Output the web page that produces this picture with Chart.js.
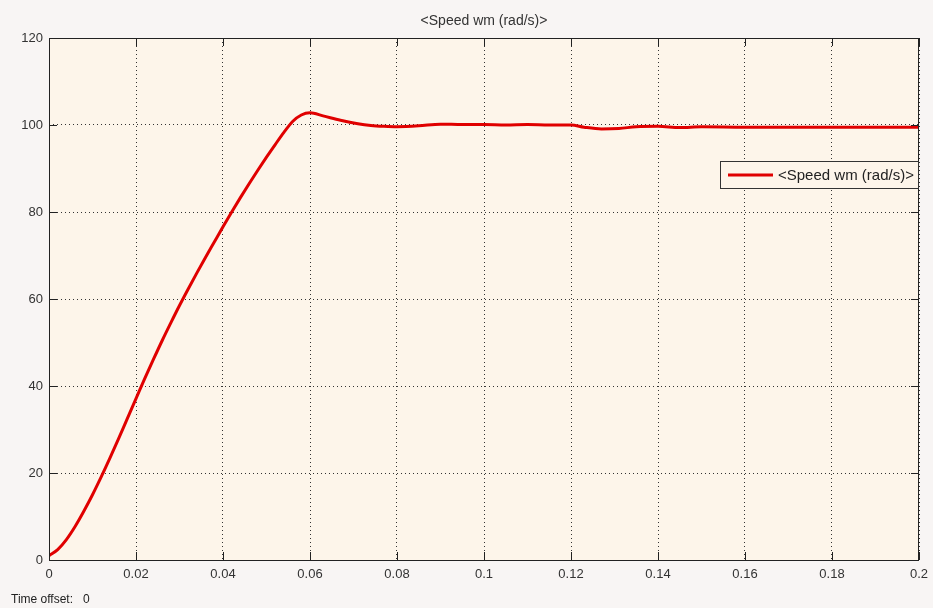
<!DOCTYPE html>
<html>
<head>
<meta charset="utf-8">
<script src="https://cdn.jsdelivr.net/npm/chart.js@4"></script>
<style>
  body { margin: 0; background: #f8f5f4; }
  #wrap { width: 933px; height: 608px; position: relative; }
</style>
</head>
<body>
<div id="wrap"><canvas id="speed"></canvas></div>
<script>
// simulated speed response
const seriesName = '<Speed wm (rad/s)>';
const timeS = [0, 0.002, 0.004, 0.006, 0.008, 0.010, 0.012, 0.014, 0.016, 0.018,
  0.020, 0.022, 0.024, 0.026, 0.028, 0.030, 0.032, 0.034, 0.036, 0.038,
  0.040, 0.042, 0.044, 0.046, 0.048, 0.050, 0.052, 0.054, 0.056, 0.058,
  0.060, 0.063, 0.067, 0.071, 0.074, 0.077, 0.080, 0.085, 0.090,
  0.095, 0.100, 0.105, 0.110, 0.115, 0.120, 0.123, 0.127, 0.131, 0.135,
  0.140, 0.145, 0.150, 0.160, 0.170, 0.180, 0.190, 0.200];
const speedWm = [1, 2.4, 4.7, 7.7, 11.2, 15.0, 19.1, 23.4, 27.9, 32.5,
  37.1, 41.7, 46.1, 50.4, 54.5, 58.5, 62.3, 66.0, 69.6, 73.1,
  76.6, 80.0, 83.3, 86.5, 89.6, 92.6, 95.5, 98.3, 100.8, 102.3,
  102.8, 102.1, 101.1, 100.3, 99.9, 99.7, 99.6, 99.8, 100.2,
  100.1, 100.1, 100, 100.1, 100, 100, 99.5, 99.1, 99.2, 99.6,
  99.7, 99.4, 99.6, 99.5, 99.5, 99.5, 99.5, 99.5];
const xTicks = [0, 0.02, 0.04, 0.06, 0.08, 0.1, 0.12, 0.14, 0.16, 0.18, 0.2];
const yTicks = [0, 20, 40, 60, 80, 100, 120];
const timeOffset = 0;

const points = timeS.map((t, i) => ({ x: t, y: speedWm[i] }));

const scopeDecor = {
  id: 'scopeDecor',
  beforeDraw(chart) {
    const { ctx, chartArea: a } = chart;
    ctx.save();
    ctx.fillStyle = '#fdf5ea';
    ctx.fillRect(a.left, a.top, a.right - a.left, a.bottom - a.top);
    ctx.restore();
  },
  afterDraw(chart) {
    const { ctx, chartArea: a } = chart;
    ctx.save();
    // frame
    ctx.strokeStyle = '#222';
    ctx.lineWidth = 1;
    ctx.strokeRect(a.left + 0.5, a.top + 0.5, a.right - a.left - 1, a.bottom - a.top);
    // inward tick marks
    const xs = chart.scales.x, ys = chart.scales.y;
    ctx.beginPath();
    xTicks.forEach(v => {
      const px = Math.round(xs.getPixelForValue(v)) + 0.5;
      ctx.moveTo(px, a.bottom); ctx.lineTo(px, a.bottom - 8);
      ctx.moveTo(px, a.top); ctx.lineTo(px, a.top + 8);
    });
    yTicks.forEach(v => {
      const py = Math.round(ys.getPixelForValue(v)) + 0.5;
      ctx.moveTo(a.left, py); ctx.lineTo(a.left + 8, py);
      ctx.moveTo(a.right, py); ctx.lineTo(a.right - 8, py);
    });
    ctx.stroke();
    // title
    ctx.fillStyle = '#333';
    ctx.font = '14px "Liberation Sans", Arial, sans-serif';
    ctx.textAlign = 'center';
    ctx.textBaseline = 'middle';
    ctx.fillText(chart.data.datasets[0].label, (a.left + a.right) / 2, 21);
    // legend box
    const lx = 720, ly = 161, lw = 198, lh = 27;
    ctx.fillStyle = '#fdf5ea';
    ctx.fillRect(lx, ly, lw, lh);
    ctx.strokeStyle = '#333';
    ctx.strokeRect(lx + 0.5, ly + 0.5, lw, lh);
    ctx.strokeStyle = '#e00000';
    ctx.lineWidth = 3;
    ctx.beginPath();
    ctx.moveTo(lx + 8, ly + lh / 2 + 0.5); ctx.lineTo(lx + 53, ly + lh / 2 + 0.5);
    ctx.stroke();
    ctx.fillStyle = '#222';
    ctx.font = '15px "Liberation Sans", Arial, sans-serif';
    ctx.textAlign = 'left';
    ctx.fillText(chart.data.datasets[0].label, lx + 58, ly + lh / 2 + 1);
    // time offset
    ctx.font = '12px "Liberation Sans", Arial, sans-serif';
    ctx.fillText('Time offset:   ' + timeOffset, 11, 600);
    ctx.restore();
  }
};

new Chart(document.getElementById('speed'), {
  type: 'line',
  data: {
    datasets: [{
      label: seriesName,
      data: points,
      borderColor: '#e00000',
      borderWidth: 3,
      pointRadius: 0,
      cubicInterpolationMode: 'monotone',
      fill: false
    }]
  },
  options: {
    responsive: true,
    maintainAspectRatio: false,
    animation: false,
    layout: { padding: { top: 38, right: 14, left: 0, bottom: 0 } },
    plugins: {
      legend: { display: false },
      title: { display: false },
      tooltip: { enabled: false }
    },
    scales: {
      x: {
        type: 'linear',
        min: 0,
        max: 0.2,
        afterFit(scale) {
          scale.height = 48;
          scale.paddingLeft = 0;
          scale.paddingRight = 0;
        },
        afterBuildTicks(scale) { scale.ticks = xTicks.map(v => ({ value: v })); },
        grid: { color: '#333', borderDash: [1, 3], drawTicks: false },
        border: { display: false, dash: [1, 3] },
        ticks: {
          color: '#333',
          padding: 7,
          font: { family: '"Liberation Sans", Arial, sans-serif', size: 13 },
          maxRotation: 0,
          callback: v => String(Math.round(v * 100) / 100)
        }
      },
      y: {
        min: 0,
        max: 120,
        afterFit(scale) { scale.width = 49; },
        afterBuildTicks(scale) { scale.ticks = yTicks.map(v => ({ value: v })); },
        grid: { color: '#333', drawTicks: false },
        border: { display: false, dash: [1, 3] },
        ticks: {
          color: '#333',
          padding: 6,
          font: { family: '"Liberation Sans", Arial, sans-serif', size: 13 }
        }
      }
    }
  },
  plugins: [scopeDecor]
});
</script>
</body>
</html>
